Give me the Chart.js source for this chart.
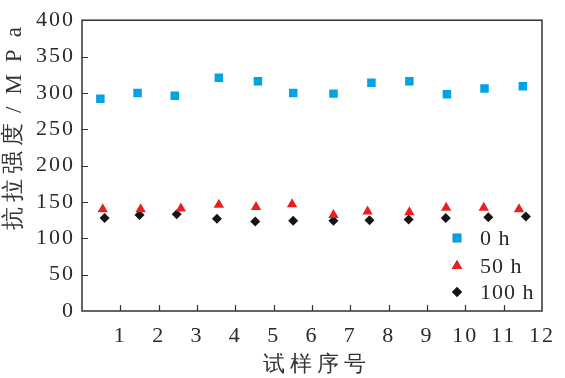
<!DOCTYPE html>
<html>
<head>
<meta charset="utf-8">
<script src="https://cdn.jsdelivr.net/npm/chart.js@4"></script>
<style>
  html, body { margin: 0; padding: 0; background: #fff; }
  #wrap { width: 565px; height: 378px; }
</style>
</head>
<body>
<div id="wrap"><canvas id="tensile" width="565" height="378"></canvas></div>
<script>
// sample positions and tensile strength (MPa)
const x0h = [0.48, 1.45, 2.42, 3.57, 4.59, 5.51, 6.56, 7.55, 8.54, 9.52, 10.5, 11.5];
const y0h = [292, 300, 296, 321, 316, 300, 299, 314, 316, 298, 306, 309];
const x50h = [0.54, 1.53, 2.58, 3.57, 4.54, 5.48, 6.56, 7.45, 8.54, 9.5, 10.48, 11.4];
const y50h = [140, 140, 141, 146, 143, 147, 132, 137, 136, 142, 142, 140];
const x100h = [0.59, 1.5, 2.47, 3.52, 4.52, 5.51, 6.56, 7.5, 8.52, 9.49, 10.6, 11.58];
const y100h = [128, 132, 133, 127, 123, 124, 124, 125, 126, 128, 129, 130];
const seriesNames = ['0 h', '50 h', '100 h'];
const xTicks = [1, 2, 3, 4, 5, 6, 7, 8, 9, 10, 11, 12];
const yTicks = [0, 50, 100, 150, 200, 250, 300, 350, 400];

const pts = (xs, ys) => xs.map((x, i) => ({ x: x, y: ys[i] }));

const serif = 'serif';
const ink = '#2a2a2a';

Chart.defaults.font.family = serif;

// frame, inward ticks, legend and axis titles
const decor = {
  id: 'decor',
  beforeDraw(chart) {
    // the original lettering is a bit wide
    chart.ctx.letterSpacing = '2px';
  },
  afterDraw(chart) {
    const { ctx, chartArea: a, scales } = chart;
    ctx.save();
    ctx.letterSpacing = '0px';
    ctx.strokeStyle = '#333';
    ctx.lineWidth = 1.5;
    ctx.strokeRect(a.left, a.top, a.right - a.left, a.bottom - a.top);
    ctx.lineWidth = 1.2;
    ctx.beginPath();
    xTicks.slice(0, -1).forEach(v => {
      const px = Math.round(scales.x.getPixelForValue(v)) + 0.5;
      ctx.moveTo(px, a.bottom);
      ctx.lineTo(px, a.bottom - 6);
    });
    yTicks.slice(1, -1).forEach(v => {
      const py = Math.round(scales.y.getPixelForValue(v)) + 0.5;
      ctx.moveTo(a.left, py);
      ctx.lineTo(a.left + 6, py);
    });
    ctx.stroke();

    // legend inside the plot, lower right
    const lx = 457, ly = [238, 266, 292];
    chart.data.datasets.forEach((ds, i) => {
      Chart.helpers.drawPoint(ctx, {
        pointStyle: ds.pointStyle,
        radius: ds.pointRadius,
        borderWidth: 0
      }, lx, ly[i]);
      ctx.fillStyle = ds.backgroundColor;
      ctx.fill();
      ctx.fillStyle = ink;
      ctx.font = '22px ' + serif;
      ctx.letterSpacing = '1px';
      ctx.textAlign = 'left';
      ctx.textBaseline = 'middle';
      ctx.fillText(ds.label, 480, ly[i] + 1);
    });

    // axis titles
    ctx.fillStyle = '#333';
    ctx.font = '22px ' + serif;
    ctx.letterSpacing = '5px';
    ctx.textAlign = 'center';
    ctx.textBaseline = 'middle';
    ctx.fillText('试样序号', (a.left + a.right) / 2 + 5, 365);
    ctx.translate(14, 122);
    ctx.rotate(-Math.PI / 2);
    ctx.textAlign = 'left';
    ctx.font = '23px ' + serif;
    ctx.fillText('抗拉强度', -108, 0);
    ctx.letterSpacing = '12px';
    ctx.fillText('/MPa', 9, 1);
    ctx.restore();
  }
};

new Chart(document.getElementById('tensile'), {
  type: 'scatter',
  data: {
    datasets: [
      {
        label: seriesNames[0],
        data: pts(x0h, y0h),
        pointStyle: 'rect',
        pointRadius: 6,
        backgroundColor: 'rgb(0, 164, 228)',
        borderWidth: 0
      },
      {
        label: seriesNames[1],
        data: pts(x50h, y50h),
        pointStyle: 'triangle',
        pointRadius: 6,
        backgroundColor: 'rgb(232, 32, 30)',
        borderWidth: 0
      },
      {
        label: seriesNames[2],
        data: pts(x100h, y100h),
        pointStyle: 'rectRot',
        pointRadius: 5,
        backgroundColor: 'rgb(20, 20, 20)',
        borderWidth: 0
      }
    ]
  },
  options: {
    responsive: false,
    animation: false,
    layout: { autoPadding: false, padding: { left: 0, top: 7, right: 13, bottom: 0 } },
    plugins: {
      legend: { display: false },
      tooltip: { enabled: false }
    },
    scales: {
      x: {
        type: 'linear',
        min: 0,
        max: 12,
        afterFit(s) { s.height = 67; },
        afterBuildTicks(s) { s.ticks = xTicks.map(v => ({ value: v })); },
        grid: { display: false, drawTicks: false },
        border: { display: false },
        ticks: { padding: 12, color: ink, font: { family: serif, size: 22 }, maxRotation: 0 }
      },
      y: {
        min: 0,
        max: 400,
        afterFit(s) { s.width = 82; },
        afterBuildTicks(s) { s.ticks = yTicks.map(v => ({ value: v })); },
        grid: { display: false, drawTicks: false },
        border: { display: false },
        ticks: { padding: 7, color: ink, font: { family: serif, size: 22 } }
      }
    }
  },
  plugins: [decor]
});
</script>
</body>
</html>
